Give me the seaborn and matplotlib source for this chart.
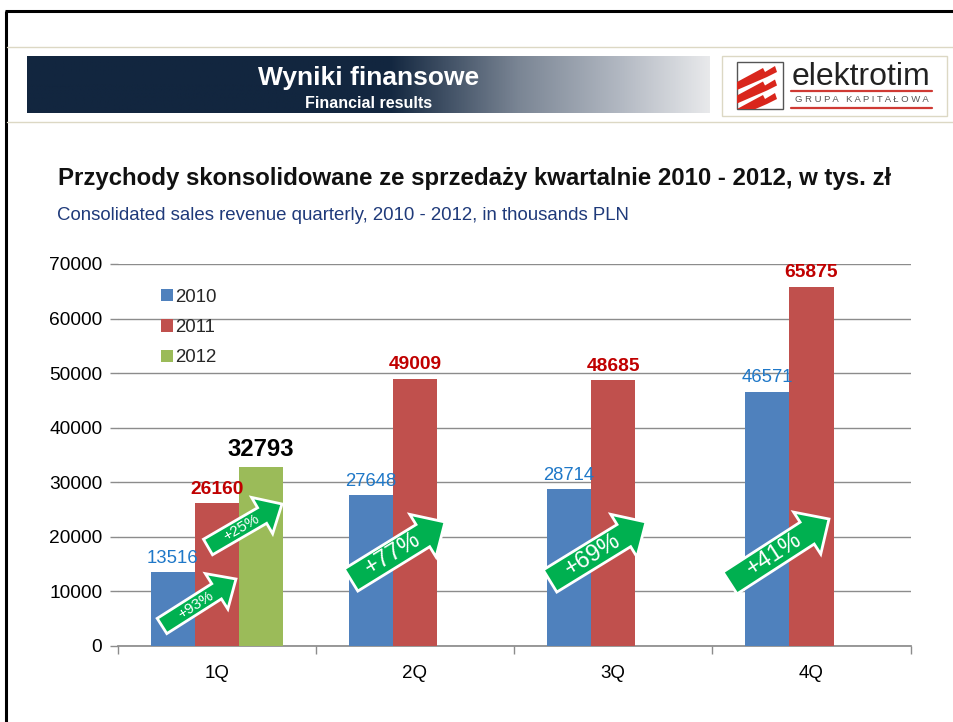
import numpy as np
import pandas as pd
import matplotlib
matplotlib.use('Agg')
import matplotlib.pyplot as plt
import seaborn as sns
from matplotlib.colors import LinearSegmentedColormap
from matplotlib.patches import FancyArrow, Polygon, Rectangle

quarters = ['1Q', '2Q', '3Q', '4Q']
years = ['2010', '2011', '2012']
sales_2010 = [13516, 27648, 28714, 46571]
sales_2011 = [26160, 49009, 48685, 65875]
sales_2012 = [32793, np.nan, np.nan, np.nan]
growth_labels = ['+93%', '+25%', '+77%', '+69%', '+41%']

W, H = 954, 722

sns.set_theme(style='white')
plt.rcParams['font.family'] = ['Liberation Sans', 'DejaVu Sans']

df = pd.DataFrame({'quarter': quarters, '2010': sales_2010, '2011': sales_2011, '2012': sales_2012})
df = df.melt(id_vars='quarter', var_name='year', value_name='sales')

fig = plt.figure(figsize=(W / 100, H / 100), dpi=100, facecolor='white')

# wykres
ax = fig.add_axes([117.6 / W, 1 - 646 / H, 793 / W, 382 / H])
sns.barplot(data=df, x='quarter', y='sales', hue='year', hue_order=years,
            palette=['#4f81bd', '#c0504d', '#9bbb59'], width=0.667, gap=0,
            saturation=1, errorbar=None, ax=ax, zorder=3, linewidth=0, edgecolor='none')
ax.set_xlim(-0.5, 3.5)
ax.set_ylim(0, 70000)
ax.set_yticks(range(0, 70001, 10000))
ax.set_xlabel('')
ax.set_ylabel('')
ax.grid(axis='y', color='#8c8c8c', lw=1)
ax.set_axisbelow(True)
for s in ['top', 'right', 'left']:
    ax.spines[s].set_visible(False)
ax.spines['bottom'].set_color('#8c8c8c')
ax.set_xticks(np.arange(-0.5, 4, 1), minor=True)
ax.tick_params(axis='x', which='major', length=0, labelsize=13.5, pad=14, colors='black')
ax.tick_params(axis='x', which='minor', length=6, width=1, color='#8c8c8c', bottom=True)
ax.tick_params(axis='y', length=6, width=1, color='#8c8c8c', left=True, labelsize=13.8, pad=5, labelcolor='black')

ax.bar_label(ax.containers[0], fmt='%d', color='#1f78c8', fontsize=13.3, padding=4)
ax.bar_label(ax.containers[1], fmt='%d', color='#c00000', fontsize=13.8, fontweight='bold', padding=4)
ax.bar_label(ax.containers[2], fmt='%d', color='black', fontsize=17.2, fontweight='bold', padding=4)

leg = ax.legend(loc='upper left', bbox_to_anchor=(0.0425, 0.96), frameon=False, fontsize=13.4,
                handlelength=0.65, handleheight=0.65, handletextpad=0.15, labelspacing=0.72, borderpad=0)

# naglowek i dekoracje w pikselach
ov = fig.add_axes([0, 0, 1, 1], zorder=5)
ov.axis('off')
ov.patch.set_alpha(0)

ov.plot([6, 6], [11, H], color='black', lw=2.2, solid_capstyle='butt')
ov.plot([5, W], [11, 11], color='black', lw=2.2, solid_capstyle='butt')
ov.plot([7, W], [47, 47], color='#dcd8c4', lw=1)
ov.plot([7, W], [122, 122], color='#dcd8c4', lw=1)

cmap = LinearSegmentedColormap.from_list('hdr', [(0, '#12263f'), (0.53, '#12263f'), (0.72, '#7a8594'),
                                                 (0.87, '#b2b8c2'), (1, '#e8e9eb')])
ov.imshow(np.linspace(0, 1, 256).reshape(1, -1), extent=(27, 710, 113, 56), cmap=cmap, aspect='auto')
ov.set_xlim(0, W)
ov.set_ylim(H, 0)

ov.text(369, 78, 'Wyniki finansowe', color='white', fontsize=19, fontweight='bold', ha='center', va='center')
ov.text(369, 103, 'Financial results', color='white', fontsize=11.5, fontweight='bold', ha='center', va='center')

ov.text(58, 178, 'Przychody skonsolidowane ze sprzedaży kwartalnie 2010 - 2012, w tys. zł',
        color='#111111', fontsize=17.25, fontweight='bold', va='center')
ov.text(57, 215, 'Consolidated sales revenue quarterly, 2010 - 2012, in thousands PLN',
        color='#1f3a7a', fontsize=13.45, va='center')

# logo
ov.add_patch(Rectangle((722.5, 55.5), 225, 60, fc='white', ec='#dcd8c4', lw=1))
box = Rectangle((737, 62), 46, 47, fc='white', ec='#555555', lw=1)
ov.add_patch(box)
for dy in [0, 13.5, 27]:
    stripe = Polygon([(737, 82 + dy), (763, 68 + dy), (765, 72 + dy), (775, 66 + dy),
                      (777, 72 + dy), (767, 77 + dy), (737, 90 + dy)],
                     closed=True, fc='#d9261c', ec='none')
    ov.add_patch(stripe)
    stripe.set_clip_path(box)
ov.text(861, 77, 'elektrotim', color='#222222', fontsize=23, ha='center', va='center')
ov.plot([791, 932], [91, 91], color='#cf3a34', lw=1.6)
ov.plot([791, 932], [107.5, 107.5], color='#cf3a34', lw=1.6)
ov.text(862, 99.5, 'G R U P A   K A P I T A Ł O W A', color='#555555', fontsize=6.8, ha='center', va='center')


def growth_arrow(x0, y0, x1, y1, shaft, head, head_len, label, size):
    ov.add_patch(FancyArrow(x0, y0, x1 - x0, y1 - y0, width=shaft, head_width=head, head_length=head_len,
                            length_includes_head=True, fc='#00b050', ec='white', lw=2, joinstyle='miter'))
    angle = np.degrees(np.arctan2(y0 - y1, x1 - x0))
    cx = x0 + (x1 - x0) * 0.45
    cy = y0 + (y1 - y0) * 0.45
    ov.text(cx, cy, label, color='white', fontsize=size, rotation=angle, rotation_mode='anchor',
            ha='center', va='center')


growth_arrow(162, 626, 236, 579, 18, 42, 23, growth_labels[0], 11)
growth_arrow(208, 547, 282, 504, 18, 42, 23, growth_labels[1], 11)
growth_arrow(351, 580, 445, 522, 26, 50, 26, growth_labels[2], 17)
growth_arrow(550, 581, 646, 522, 26, 50, 26, growth_labels[3], 17)
growth_arrow(730, 583, 829, 519, 26, 50, 26, growth_labels[4], 17)

fig.savefig('out.png', dpi=100)
plt.close(fig)
